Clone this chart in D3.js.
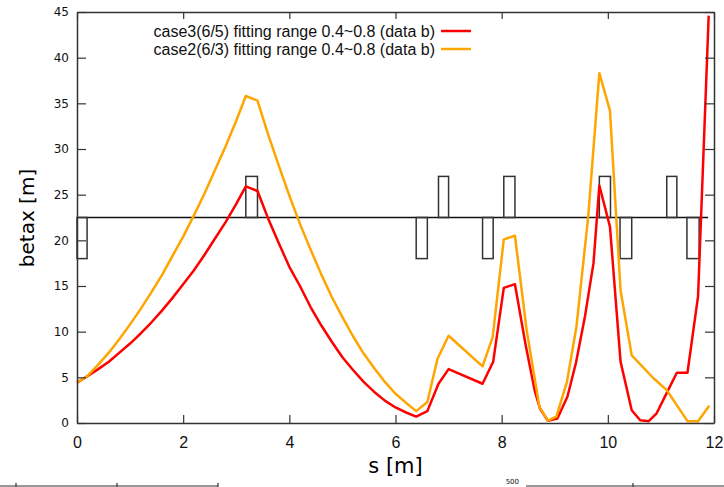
<!DOCTYPE html>
<html>
<head>
<meta charset="utf-8">
<script src="https://cdn.jsdelivr.net/npm/d3@7"></script>
<style>
  body { margin: 0; background: #fff; }
  svg { display: block; }
</style>
</head>
<body>
<div id="chart"></div>
<script>
// beta function, case3 (red)
var sRed = [0, 0.19, 0.4, 0.6, 0.8, 1.0, 1.2, 1.4, 1.6, 1.8, 2.0, 2.2, 2.4, 2.6, 2.8, 3.0, 3.18, 3.40,
  3.6, 3.8, 4.0, 4.2, 4.4, 4.6, 4.8, 5.0, 5.2, 5.4, 5.6, 5.8, 6.0, 6.2, 6.39, 6.60, 6.81, 7.00, 7.64, 7.84,
  8.04, 8.25, 8.45, 8.62, 8.72, 8.87, 9.05, 9.24, 9.40, 9.57, 9.73, 9.84, 10.04, 10.24, 10.45, 10.61, 10.77,
  10.92, 11.11, 11.30, 11.50, 11.70, 11.90];
var betaRed = [4.4, 5.1, 5.9, 6.7, 7.7, 8.7, 9.8, 11.0, 12.3, 13.7, 15.2, 16.7, 18.4, 20.2, 22.0, 24.0, 25.9, 25.4,
  22.4, 19.7, 17.1, 15.0, 12.7, 10.7, 8.9, 7.2, 5.8, 4.5, 3.4, 2.45, 1.7, 1.15, 0.7, 1.3, 4.3, 5.9, 4.3, 6.7,
  14.8, 15.2, 8.6, 3.6, 1.6, 0.25, 0.5, 2.9, 6.6, 11.7, 17.5, 26.0, 21.5, 6.7, 1.4, 0.3, 0.2,
  1.06, 3.3, 5.5, 5.5, 13.9, 44.6];

// beta function, case2 (orange)
var sOrange = [0, 0.19, 0.4, 0.6, 0.8, 1.0, 1.2, 1.4, 1.6, 1.8, 2.0, 2.2, 2.4, 2.6, 2.8, 3.0, 3.18, 3.40,
  3.6, 3.8, 4.0, 4.2, 4.4, 4.6, 4.8, 5.0, 5.2, 5.4, 5.6, 5.8, 6.0, 6.2, 6.39, 6.60, 6.79, 7.00, 7.64, 7.83,
  8.04, 8.25, 8.47, 8.71, 8.87, 9.03, 9.23, 9.41, 9.63, 9.84, 10.04, 10.24, 10.45, 10.86, 11.11, 11.50,
  11.70, 11.91];
var betaOrange = [4.4, 5.1, 6.4, 7.7, 9.2, 10.8, 12.5, 14.3, 16.2, 18.3, 20.4, 22.7, 25.1, 27.7, 30.3, 33.1, 35.8, 35.3,
  31.6, 28.2, 24.9, 21.8, 19.0, 16.3, 13.8, 11.6, 9.5, 7.6, 6.0, 4.5, 3.2, 2.2, 1.3, 2.3, 7.0, 9.55, 6.2, 9.4,
  20.1, 20.5, 10.2, 1.8, 0.25, 0.7, 4.5, 10.6, 22.6, 38.3, 34.2, 14.5, 7.4, 4.9, 3.6, 0.2,
  0.2, 1.9];

// lattice (quadrupoles drawn as boxes on the base line)
var quadStart = [0, 3.18, 6.39, 6.81, 7.64, 8.04, 9.84, 10.23, 11.11, 11.49];
var quadEnd   = [0.19, 3.40, 6.60, 7.00, 7.84, 8.25, 10.05, 10.45, 11.30, 11.72];
var quadLevel = [18, 27, 18, 27, 18, 27, 27, 18, 27, 18];
var latticeBase = 22.5;
var latticeEnd = 11.89;

var legendLabels = ["case3(6/5) fitting range 0.4~0.8 (data b)", "case2(6/3) fitting range 0.4~0.8 (data b)"];
var xTicks = [0, 2, 4, 6, 8, 10, 12];
var yTicks = [0, 5, 10, 15, 20, 25, 30, 35, 40, 45];

var width = 724, height = 487;
var plot = {left: 77, right: 714, top: 12, bottom: 423};

var svg = d3.select("#chart").append("svg")
    .attr("width", width)
    .attr("height", height);

var x = d3.scaleLinear().domain([0, 12]).range([plot.left, plot.right]);
var y = d3.scaleLinear().domain([0, 45]).range([plot.bottom, plot.top]);

var line = d3.line()
    .x(function(d) { return x(d[0]); })
    .y(function(d) { return y(d[1]); });

// lattice: base line plus one box per quad
svg.append("line")
    .attr("x1", x(0)).attr("x2", x(latticeEnd))
    .attr("y1", y(latticeBase)).attr("y2", y(latticeBase))
    .attr("stroke", "#111")
    .attr("stroke-width", 1.5);

svg.selectAll("rect.quad")
    .data(quadStart)
  .enter().append("rect")
    .attr("class", "quad")
    .attr("x", function(d) { return x(d); })
    .attr("width", function(d, i) { return x(quadEnd[i]) - x(d); })
    .attr("y", function(d, i) { return y(Math.max(quadLevel[i], latticeBase)); })
    .attr("height", function(d, i) { return Math.abs(y(quadLevel[i]) - y(latticeBase)); })
    .attr("fill", "none")
    .attr("stroke", "#333")
    .attr("stroke-width", 1.5);

// beta curves
var series = [
  {s: sRed, b: betaRed, color: "#ff0000"},
  {s: sOrange, b: betaOrange, color: "#ffa500"}
];

series.forEach(function(se) {
  svg.append("path")
      .datum(se.s.map(function(v, i) { return [v, se.b[i]]; }))
      .attr("fill", "none")
      .attr("stroke", se.color)
      .attr("stroke-width", 2.5)
      .attr("stroke-linejoin", "round")
      .attr("d", line);
});

// axes, ticks pointing inward like gnuplot
function styleAxis(g) {
  g.selectAll(".domain").attr("stroke", "#333").attr("stroke-width", 1.5);
  g.selectAll(".tick line").attr("stroke", "#333").attr("stroke-width", 1.2);
}

svg.append("g")
    .attr("transform", "translate(0," + plot.bottom + ")")
    .call(d3.axisBottom(x).tickValues(xTicks).tickSizeInner(-8).tickSizeOuter(0).tickPadding(14))
    .call(styleAxis)
    .selectAll("text")
    .attr("fill", "#111")
    .style("font-family", "'Liberation Sans Narrow', 'Liberation Sans', sans-serif")
    .style("font-stretch", "condensed")
    .style("font-size", "16px");

svg.append("g")
    .attr("transform", "translate(0," + plot.top + ")")
    .call(d3.axisTop(x).tickValues(xTicks).tickSizeInner(-7).tickSizeOuter(0).tickFormat(""))
    .call(styleAxis);

svg.append("g")
    .attr("transform", "translate(" + plot.left + ",0)")
    .call(d3.axisLeft(y).tickValues(yTicks).tickSizeInner(-9).tickSizeOuter(0).tickPadding(8))
    .call(styleAxis)
    .selectAll("text")
    .attr("fill", "#111")
    .style("font-family", "'DejaVu Sans', sans-serif")
    .style("font-size", "12px");

svg.append("g")
    .attr("transform", "translate(" + plot.right + ",0)")
    .call(d3.axisRight(y).tickValues(yTicks).tickSizeInner(-9).tickSizeOuter(0).tickFormat(""))
    .call(styleAxis);

// axis titles
svg.append("text")
    .attr("x", (plot.left + plot.right) / 2)
    .attr("y", 473)
    .attr("text-anchor", "middle")
    .style("font-family", "'DejaVu Sans', sans-serif")
    .style("font-size", "21px")
    .text("s [m]");

svg.append("text")
    .attr("transform", "translate(34,218) rotate(-90)")
    .attr("text-anchor", "middle")
    .style("font-family", "'DejaVu Sans', sans-serif")
    .style("font-size", "20px")
    .text("betax [m]");

// legend
var legend = svg.append("g").attr("transform", "translate(435,31)");
series.forEach(function(se, i) {
  var row = legend.append("g").attr("transform", "translate(0," + (i * 18) + ")");
  row.append("text")
      .attr("x", 0)
      .attr("dy", "0.35em")
      .attr("text-anchor", "end")
      .style("font-family", "'Liberation Sans', sans-serif")
      .style("font-size", "16px")
      .attr("fill", "#111")
      .text(legendLabels[i]);
  row.append("line")
      .attr("x1", 6).attr("x2", 36)
      .attr("stroke", se.color)
      .attr("stroke-width", 2.5);
});

// edge of the next plots peeking in at the bottom
var peek = svg.append("g").attr("stroke", "#333").attr("stroke-width", 1.2);
peek.append("line").attr("x1", 0).attr("x2", 218).attr("y1", 486).attr("y2", 486);
[16, 117, 218].forEach(function(px) {
  peek.append("line").attr("x1", px).attr("x2", px).attr("y1", 483).attr("y2", 487);
});
peek.append("line").attr("x1", 526).attr("x2", 724).attr("y1", 486).attr("y2", 486);
peek.append("line").attr("x1", 633).attr("x2", 633).attr("y1", 483).attr("y2", 487);
svg.append("text")
    .attr("x", 519).attr("y", 484)
    .attr("text-anchor", "end")
    .style("font-family", "'DejaVu Sans', sans-serif")
    .style("font-size", "7px")
    .attr("fill", "#111")
    .text("500");
</script>
</body>
</html>
